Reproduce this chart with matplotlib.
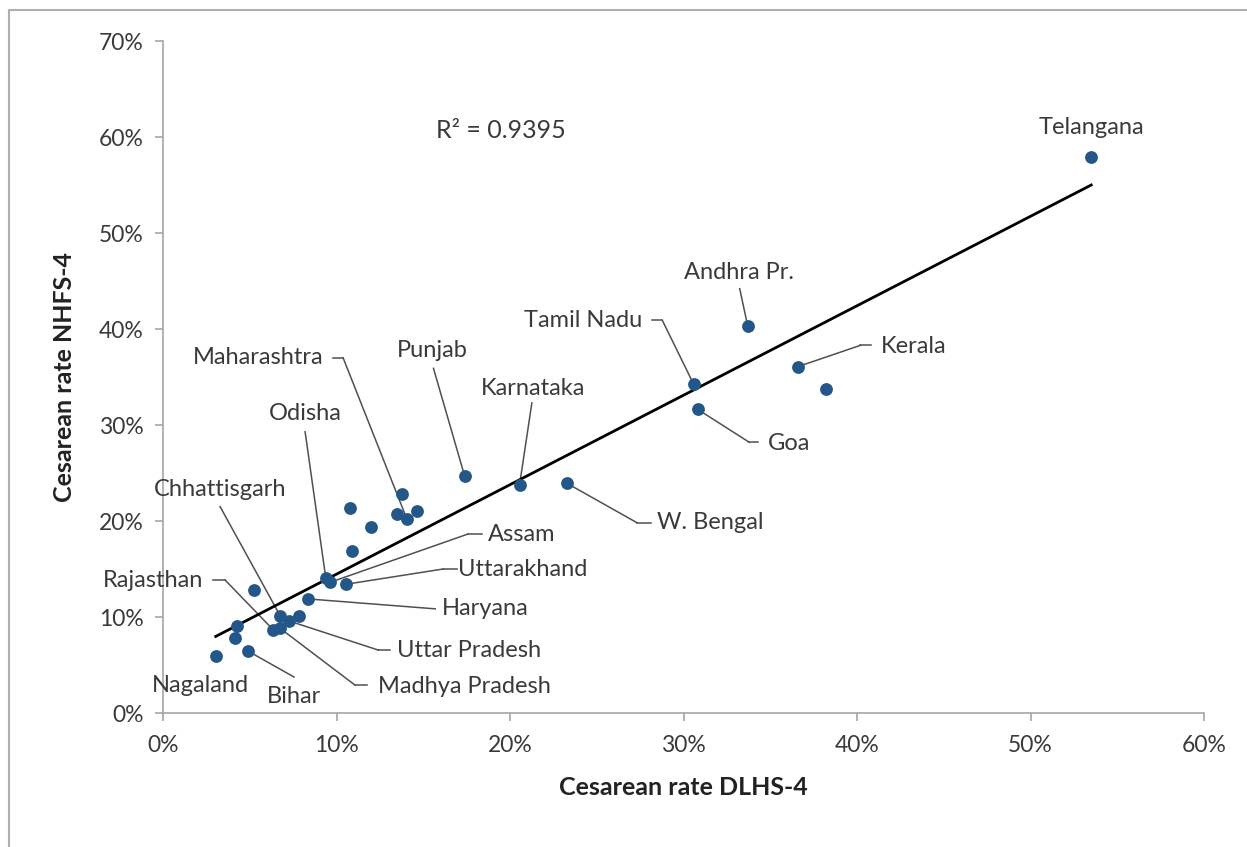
import numpy as np
import matplotlib
matplotlib.use("Agg")
import matplotlib.pyplot as plt
from matplotlib.ticker import PercentFormatter, MultipleLocator
from matplotlib.patches import Rectangle

plt.rcParams['font.family'] = ['Lato', 'DejaVu Sans']

# cesarean rates in percent, one entry per state
dlhs = [3.04, 4.15, 4.28, 4.92, 5.27, 6.36, 6.75, 6.75, 7.28, 7.84,
        8.38, 9.38, 9.63, 10.55, 10.88, 10.78, 11.98, 13.48, 13.80, 14.05,
        14.63, 17.38, 20.55, 23.28, 30.58, 30.81, 33.70, 36.58, 38.22, 53.50]
nfhs = [5.97, 7.78, 9.09, 6.43, 12.78, 8.65, 8.82, 10.14, 9.58, 10.14,
        11.88, 14.09, 13.61, 13.41, 16.91, 21.32, 19.41, 20.70, 22.78, 20.24,
        21.07, 24.72, 23.75, 23.93, 34.27, 31.64, 40.31, 36.07, 33.78, 57.89]
r2_text = "R² = 0.9395"

# label: (name, point index, text x, text y, ha, leader start x, y, dash end x or None)
labels = [
    ("Telangana", 29, 53.52, 61.0, "center", None, None, None),
    ("Andhra Pr.", 26, 33.22, 45.9, "center", 33.24, 44.2, None),
    ("Tamil Nadu", 24, 27.62, 40.9, "right", 28.78, 40.9, 28.2),
    ("Kerala", 27, 41.35, 38.2, "left", 40.2, 38.3, 40.8),
    ("Goa", 25, 34.89, 28.1, "left", 33.79, 28.2, 34.3),
    ("W. Bengal", 23, 28.49, 19.8, "left", 27.34, 19.8, 28.1),
    ("Karnataka", 22, 21.34, 33.85, "center", 21.26, 32.3, None),
    ("Punjab", 21, 15.51, 37.8, "center", 15.59, 35.9, None),
    ("Maharashtra", 19, 9.23, 37.0, "right", 10.38, 37.0, 9.8),
    ("Odisha", 11, 8.19, 31.25, "center", 8.19, 29.3, None),
    ("Chhattisgarh", 7, 3.29, 23.3, "center", 3.29, 21.5, None),
    ("Assam", 12, 18.74, 18.6, "left", 17.59, 18.65, 18.4),
    ("Uttarakhand", 13, 17.01, 14.95, "left", 16.15, 15.0, 16.96),
    ("Haryana", 10, 16.09, 10.85, "left", 15.69, 10.85, None),
    ("Uttar Pradesh", 8, 13.49, 6.5, "left", 12.40, 6.56, 13.09),
    ("Madhya Pradesh", 6, 12.40, 2.8, "left", 11.07, 2.9, 11.76),
    ("Rajasthan", 5, 2.31, 13.8, "right", 3.58, 13.85, 2.88),
    ("Nagaland", 0, 2.13, 2.9, "center", None, None, None),
    ("Bihar", 3, 7.55, 1.7, "center", 7.55, 3.75, None),
]

fig = plt.figure(figsize=(12.47, 8.47), dpi=100)
ax = fig.add_axes([163/1247, 134/847, (1204-163)/1247, (713-41)/847])

txt_col = '#3a3a3a'
dot_col = '#245789'

x = np.array(dlhs)
y = np.array(nfhs)
m, b = np.polyfit(x, y, 1)
xs = np.array([x.min(), x.max()])
ax.plot(xs, m*xs + b, color='black', lw=2, zorder=2)

ax.scatter(x, y, s=85, color=dot_col, zorder=3, linewidths=0)

for name, i, tx, ty, ha, lx, ly, dx in labels:
    ax.text(tx, ty, name, ha=ha, va='center', fontsize=17, color=txt_col, zorder=4)
    if lx is None:
        continue
    ax.plot([x[i], lx], [y[i], ly], color='#505050', lw=1.1, zorder=1)
    if dx is not None:
        ax.plot([lx, dx], [ly, ly], color='#505050', lw=1.1, zorder=1)

ax.text(19.5, 60.7, r2_text, ha='center', va='center', fontsize=18, color=txt_col)

ax.set_xlim(0, 60)
ax.set_ylim(0, 70)
ax.xaxis.set_major_locator(MultipleLocator(10))
ax.yaxis.set_major_locator(MultipleLocator(10))
ax.xaxis.set_major_formatter(PercentFormatter(decimals=0))
ax.yaxis.set_major_formatter(PercentFormatter(decimals=0))

for s in ['top', 'right']:
    ax.spines[s].set_visible(False)
for s in ['left', 'bottom']:
    ax.spines[s].set_color('#a6a6a6')
    ax.spines[s].set_linewidth(1.2)
ax.tick_params(axis='both', direction='out', length=6, width=1.2, color='#a6a6a6',
               labelsize=16.5, labelcolor=txt_col)
ax.tick_params(axis='x', pad=10)
ax.tick_params(axis='y', pad=8)

ax.set_xlabel("Cesarean rate DLHS-4", fontsize=18, fontweight='bold', labelpad=14, color='#222222')
ax.set_ylabel("Cesarean rate NHFS-4", fontsize=18, fontweight='bold', labelpad=16, color='#222222')

fig.add_artist(Rectangle((9/1247, -0.1), 1.2, (847-10)/847 + 0.1, transform=fig.transFigure,
                         fill=False, edgecolor='#b0b0b0', lw=1.5))

fig.savefig("out.png", dpi=100)
